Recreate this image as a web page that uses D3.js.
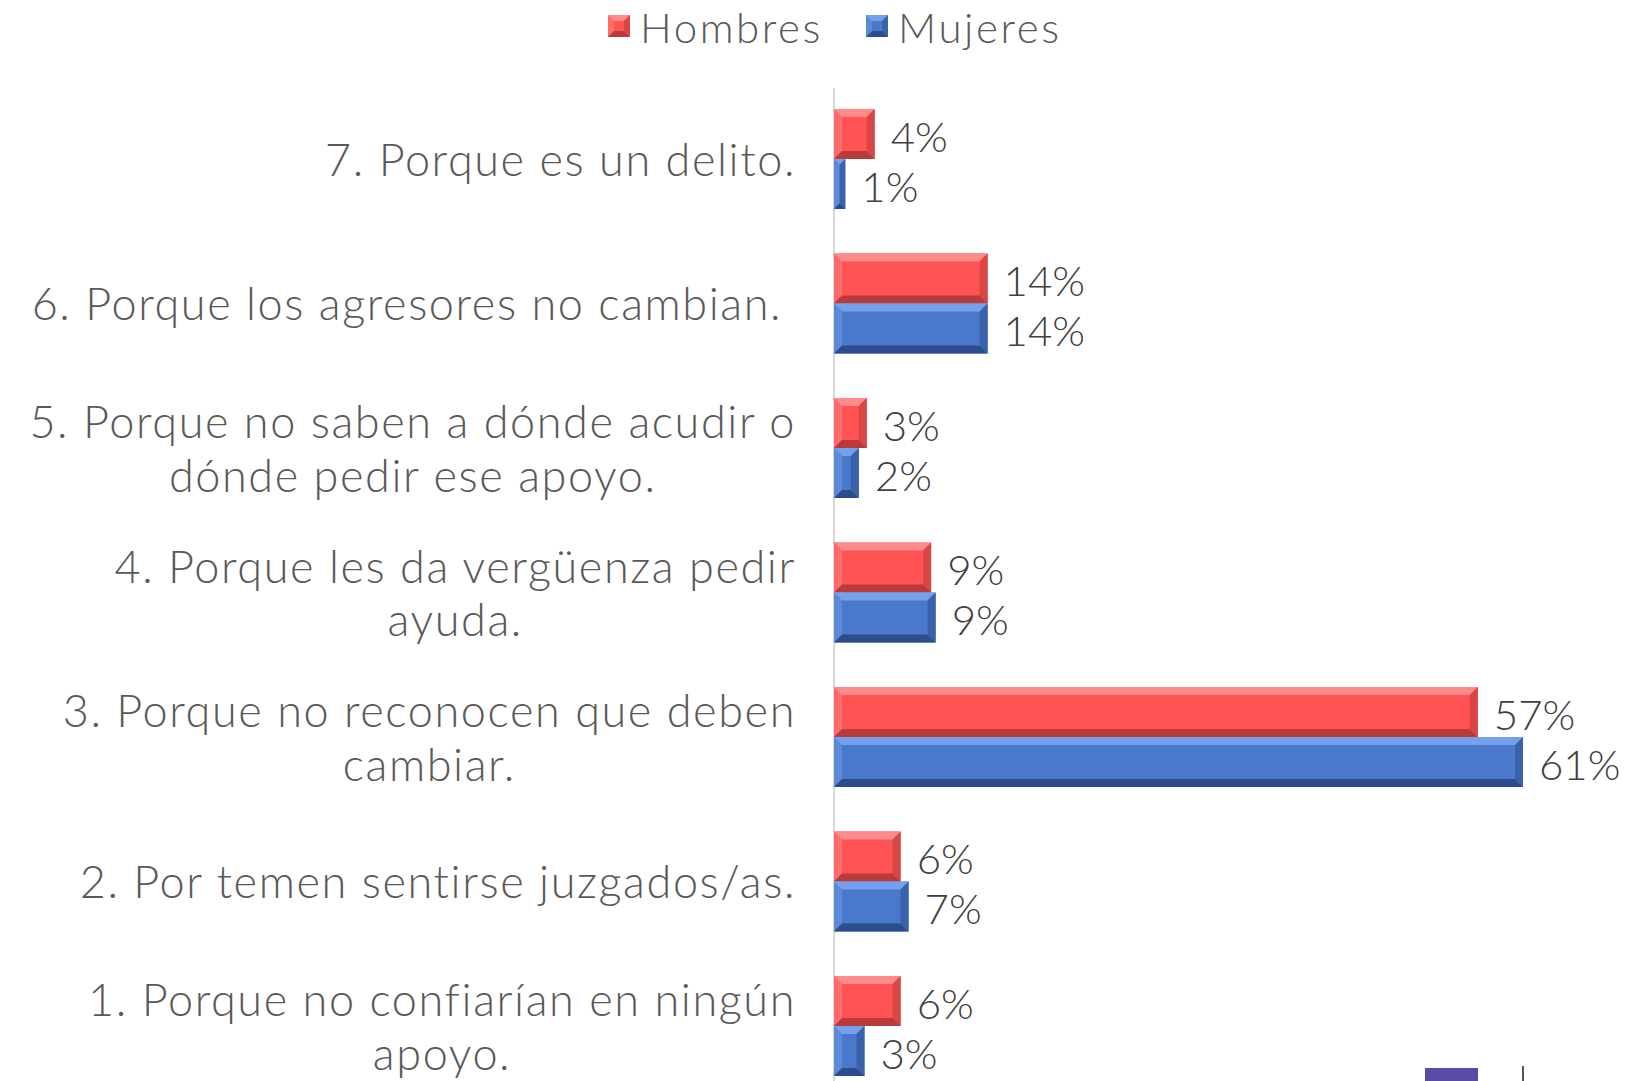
<!DOCTYPE html>
<html>
<head>
<meta charset="utf-8">
<script src="https://cdn.jsdelivr.net/npm/d3@7"></script>
<style>
  html, body { margin: 0; padding: 0; background: #fff; }
  svg { display: block; }
  text { font-family: 'Lato', 'Noto Sans', sans-serif; font-weight: 300; }
</style>
</head>
<body>
<div id="chart"></div>
<script>
// categories, top to bottom
const categories = ['7', '6', '5', '4', '3', '2', '1']
const categoryLines = [
  ['7. Porque es un delito.'],
  ['6. Porque los agresores no cambian.\u00a0'],
  ['5. Porque no saben a dónde acudir o', 'dónde pedir ese apoyo.'],
  ['4. Porque les da vergüenza pedir', 'ayuda.'],
  ['3. Porque no reconocen que deben', 'cambiar.'],
  ['2. Por temen sentirse juzgados/as.'],
  ['1. Porque no confiarían en ningún', 'apoyo.']
]
const series = ['Hombres', 'Mujeres']
const hombres = [3.6, 13.6, 2.9, 8.6, 57.0, 5.9, 5.9]
const mujeres = [1.0, 13.6, 2.2, 9.0, 61.0, 6.6, 2.7]

const colors = {
  Hombres: { base: '#ff5252', light: '#ff8a8a', dark: '#b83a3a', side: '#d94646' },
  Mujeres: { base: '#4a79cc', light: '#74a0ec', dark: '#2c4c8c', side: '#3b62a8' }
}

const W = 1626, H = 1081
const x0 = 834
const labelRight = 796

const svg = d3.select('#chart').append('svg')
  .attr('width', W)
  .attr('height', H)

const x = d3.scaleLinear().domain([0, 61]).range([x0, 1523])

const y = d3.scaleBand()
  .domain(categories)
  .range([86.75, 1098.25])
  .paddingInner(0.308)
  .paddingOuter(0.154)

const ys = d3.scaleBand().domain(series).range([0, y.bandwidth()])

// axis line
svg.append('line')
  .attr('x1', x0).attr('x2', x0)
  .attr('y1', 88).attr('y2', H)
  .attr('stroke', '#d9d9d9')
  .attr('stroke-width', 2)

const rows = categories.map((c, i) => ({ cat: c, lines: categoryLines[i], vals: [hombres[i], mujeres[i]] }))

const group = svg.append('g').selectAll('g')
  .data(rows)
  .join('g')
  .attr('transform', d => `translate(0,${y(d.cat)})`)

// bevelled box: flat face plus four edge facets
function drawBevel(sel, box, c, bmax) {
  sel.append('rect')
    .attr('x', d => box(d).xa).attr('y', d => box(d).ya)
    .attr('width', d => box(d).xb - box(d).xa)
    .attr('height', d => box(d).yb - box(d).ya)
    .attr('fill', d => c(d).base)
  const pts = {
    top: p => [[p.xa, p.ya], [p.xb, p.ya], [p.xb - p.b, p.ya + p.b], [p.xa + p.b, p.ya + p.b]],
    left: p => [[p.xa, p.ya], [p.xa + p.b, p.ya + p.b], [p.xa + p.b, p.yb - p.b], [p.xa, p.yb]],
    bottom: p => [[p.xa, p.yb], [p.xa + p.b, p.yb - p.b], [p.xb - p.b, p.yb - p.b], [p.xb, p.yb]],
    right: p => [[p.xb, p.ya], [p.xb, p.yb], [p.xb - p.b, p.yb - p.b], [p.xb - p.b, p.ya + p.b]]
  }
  const fills = { top: 'light', left: 'light', bottom: 'dark', right: 'side' }
  Object.keys(pts).forEach(k => {
    sel.append('polygon')
      .attr('points', d => {
        const p = box(d)
        p.b = Math.min(bmax, (p.xb - p.xa) / 2, (p.yb - p.ya) / 2)
        return pts[k](p).join(' ')
      })
      .attr('fill', d => c(d)[fills[k]])
      .attr('opacity', k === 'left' ? 0.45 : 1)
  })
}

const bar = group.selectAll('g.bar')
  .data(d => series.map((s, j) => ({ s, v: d.vals[j] })))
  .join('g')
  .attr('class', 'bar')

drawBevel(bar,
  d => ({ xa: x(0), xb: x(d.v), ya: ys(d.s), yb: ys(d.s) + ys.bandwidth() }),
  d => colors[d.s], 8)

// value labels
bar.append('text')
  .attr('x', d => x(d.v) + 16)
  .attr('y', d => ys(d.s) + ys.bandwidth() / 2 + 2)
  .attr('dominant-baseline', 'central')
  .attr('font-size', 42)
  .attr('fill', '#404040')
  .text(d => d3.format('.0f')(d.v) + '%')

// category labels: block right-aligned, lines centred within the block
const catText = group.append('text')
  .attr('text-anchor', 'middle')
  .attr('font-size', 45)
  .attr('letter-spacing', 1.6)
  .attr('fill', '#595959')

catText.selectAll('tspan')
  .data(d => d.lines.map((l, k) => ({ l, k, n: d.lines.length })))
  .join('tspan')
  .attr('y', d => y.bandwidth() / 2 + (d.k - (d.n - 1) / 2) * 54)
  .attr('dominant-baseline', 'central')
  .text(d => d.l)

catText.each(function () {
  const spans = d3.select(this).selectAll('tspan')
  let maxW = 0
  spans.each(function () { maxW = Math.max(maxW, this.getComputedTextLength()) })
  spans.attr('x', labelRight - maxW / 2)
})

// legend
const legend = svg.append('g').selectAll('g')
  .data(series)
  .join('g')
  .attr('transform', (d, i) => `translate(${[608, 866][i]},15)`)

drawBevel(legend, () => ({ xa: 0, xb: 22, ya: 0, yb: 22 }), d => colors[d], 6)

legend.append('text')
  .attr('x', 32)
  .attr('y', 12)
  .attr('dominant-baseline', 'central')
  .attr('font-size', 42)
  .attr('letter-spacing', 2.6)
  .attr('fill', '#595959')
  .text(d => d)

// cropped logo fragment at the bottom edge
svg.append('rect')
  .attr('x', 1425).attr('y', 1068).attr('width', 53).attr('height', 13)
  .attr('fill', '#5b4aa6')
svg.append('line')
  .attr('x1', 1523).attr('x2', 1523).attr('y1', 1066).attr('y2', H)
  .attr('stroke', '#555').attr('stroke-width', 2)
</script>
</body>
</html>
